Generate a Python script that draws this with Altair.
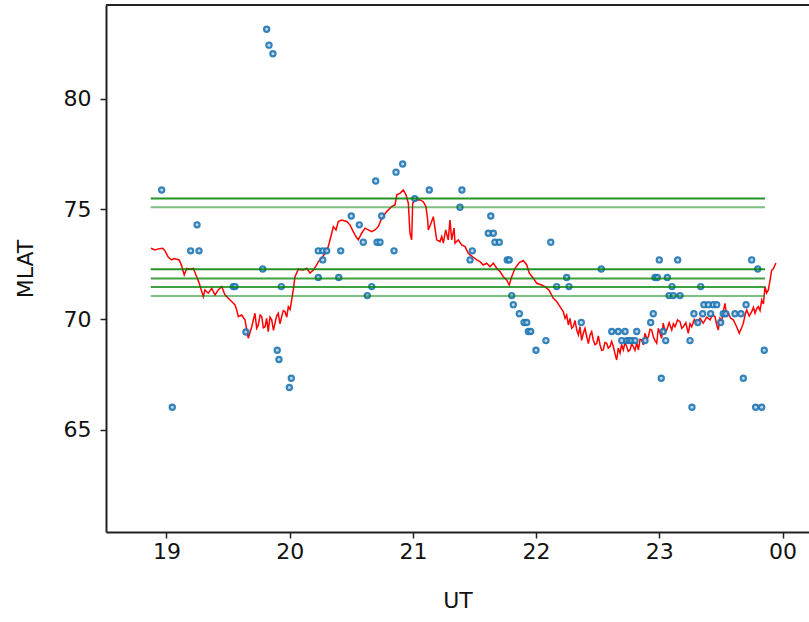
import altair as alt
import pandas as pd

# ---- data ----
line_ut = [
    18.874, 18.907, 18.933, 18.969, 18.988, 19.015, 19.042, 19.062, 19.083, 19.104,
    19.123, 19.144, 19.164, 19.191, 19.218, 19.245, 19.266, 19.286, 19.299, 19.312,
    19.339, 19.367, 19.394, 19.420, 19.448, 19.475, 19.502, 19.529, 19.556, 19.570,
    19.583, 19.610, 19.637, 19.656, 19.664, 19.692, 19.718, 19.732, 19.745, 19.760,
    19.773, 19.786, 19.800, 19.813, 19.826, 19.840, 19.854, 19.868, 19.881, 19.894,
    19.907, 19.921, 19.935, 19.948, 19.962, 19.976, 19.989, 20.003, 20.016, 20.029,
    20.043, 20.070, 20.110, 20.138, 20.165, 20.192, 20.219, 20.232, 20.260, 20.287,
    20.313, 20.341, 20.354, 20.376, 20.394, 20.422, 20.463, 20.489, 20.516, 20.538,
    20.557, 20.584, 20.611, 20.638, 20.666, 20.692, 20.719, 20.747, 20.787, 20.828,
    20.855, 20.869, 20.895, 20.922, 20.944, 20.963, 20.976, 20.990, 20.998, 21.017,
    21.058, 21.084, 21.106, 21.120, 21.125, 21.147, 21.166, 21.179, 21.193, 21.220,
    21.234, 21.247, 21.266, 21.287, 21.301, 21.315, 21.334, 21.342, 21.368, 21.396,
    21.423, 21.450, 21.464, 21.490, 21.518, 21.545, 21.571, 21.599, 21.626, 21.653,
    21.680, 21.707, 21.734, 21.761, 21.782, 21.802, 21.829, 21.864, 21.896, 21.924,
    21.945, 21.977, 22.005, 22.045, 22.072, 22.107, 22.140, 22.167, 22.194, 22.221,
    22.235, 22.248, 22.262, 22.275, 22.289, 22.302, 22.316, 22.330, 22.343, 22.356,
    22.370, 22.383, 22.397, 22.411, 22.424, 22.438, 22.451, 22.464, 22.478, 22.492,
    22.505, 22.519, 22.532, 22.545, 22.559, 22.573, 22.586, 22.600, 22.613, 22.627,
    22.640, 22.654, 22.667, 22.681, 22.694, 22.708, 22.721, 22.735, 22.748, 22.762,
    22.776, 22.789, 22.803, 22.817, 22.830, 22.844, 22.857, 22.871, 22.884, 22.898,
    22.911, 22.925, 22.938, 22.952, 22.965, 22.979, 22.992, 23.006, 23.019, 23.032,
    23.046, 23.060, 23.080, 23.101, 23.114, 23.127, 23.148, 23.168, 23.182, 23.195,
    23.215, 23.235, 23.249, 23.263, 23.284, 23.304, 23.330, 23.357, 23.385, 23.412,
    23.432, 23.452, 23.466, 23.479, 23.492, 23.506, 23.519, 23.533, 23.547, 23.560,
    23.580, 23.601, 23.625, 23.649, 23.666, 23.682, 23.696, 23.709, 23.730, 23.750,
    23.764, 23.777, 23.791, 23.804, 23.818, 23.831, 23.845, 23.858, 23.871, 23.885,
    23.898, 23.912, 23.926, 23.939, 23.947,
]
line_mlat = [
    73.23, 73.15, 73.20, 73.23, 73.11, 72.82, 72.70, 72.76, 72.73, 72.70,
    72.43, 72.02, 72.32, 72.28, 72.32, 71.94, 71.64, 71.26, 71.03, 71.34,
    71.19, 71.41, 71.11, 71.34, 71.49, 71.11, 70.96, 70.81, 70.66, 70.43,
    70.13, 70.20, 69.98, 69.37, 69.15, 69.67, 70.28, 69.60, 69.75, 70.20,
    70.13, 69.62, 69.67, 70.05, 69.45, 70.10, 69.98, 69.50, 69.83, 70.15,
    70.28, 69.80, 70.13, 70.40, 70.35, 70.10, 70.58, 70.45, 70.88, 71.34,
    71.94, 72.28, 72.24, 72.32, 72.10, 72.24, 72.47, 72.62, 72.78, 73.00,
    73.30, 73.91, 74.21, 74.06, 74.44, 74.51, 74.44, 74.29, 73.98, 73.76,
    73.61, 73.91, 74.14, 74.06, 73.98, 74.06, 74.21, 74.59, 74.89, 75.12,
    75.19, 75.65, 75.72, 75.87, 75.65, 75.27, 73.91, 73.61, 75.27, 75.42,
    75.42, 75.34, 75.12, 74.51, 74.06, 74.36, 74.66, 74.14, 73.61, 73.53,
    73.76, 73.46, 74.06, 73.61, 74.51, 73.61, 74.14, 73.46, 73.61, 73.38,
    73.30, 73.00, 72.93, 72.82, 72.70, 72.62, 72.47, 72.55, 72.39, 72.55,
    72.32, 72.17, 71.94, 71.79, 71.56, 71.94, 72.32, 72.58, 72.67, 72.47,
    72.10, 71.87, 71.64, 71.56, 71.49, 71.31, 70.96, 70.81, 70.58, 70.35,
    70.05, 70.20, 69.75, 70.05, 69.60, 69.67, 69.95, 69.52, 69.30, 69.67,
    69.05, 69.37, 69.60, 69.22, 68.90, 69.30, 69.45, 69.07, 68.85, 68.92,
    69.25, 68.84, 68.60, 68.62, 68.95, 68.92, 68.70, 68.77, 69.00, 68.77,
    68.45, 68.16, 68.70, 68.47, 68.85, 68.62, 68.95, 68.77, 68.55, 68.62,
    68.90, 68.77, 68.60, 68.95, 68.62, 69.10, 69.07, 68.85, 69.37, 69.10,
    69.22, 69.55, 69.52, 69.20, 69.05, 68.92, 69.60, 69.37, 69.15, 69.83,
    69.45, 69.52, 69.85, 69.52, 69.80, 69.67, 69.98, 69.90, 69.60, 69.67,
    69.85, 69.37, 69.80, 69.67, 70.00, 69.83, 70.05, 69.83, 70.10, 69.98,
    70.20, 70.13, 69.75, 69.52, 70.05, 69.90, 70.35, 70.73, 70.20, 70.28,
    70.05, 69.98, 69.70, 69.37, 69.60, 69.83, 70.20, 70.43, 70.15, 70.35,
    70.55, 70.28, 70.50, 70.58, 70.40, 70.88, 70.70, 71.49, 71.20, 71.34,
    71.75, 72.24, 72.30, 72.47, 72.55,
]

pts_ut = [
    18.961, 19.047, 19.196, 19.264, 19.248, 19.542, 19.556, 19.645, 19.781, 19.813,
    19.832, 19.864, 19.899, 19.913, 19.932, 19.997, 20.013, 20.232, 20.268, 20.300,
    20.268, 20.232, 20.398, 20.414, 20.500, 20.565, 20.597, 20.630, 20.666, 20.698,
    20.709, 20.733, 20.747, 20.847, 20.863, 20.917, 21.015, 21.133, 21.398, 21.382,
    21.464, 21.482, 21.612, 21.632, 21.653, 21.666, 21.701, 21.766, 21.782, 21.802,
    21.815, 21.864, 21.902, 21.924, 21.937, 21.956, 21.999, 22.080, 22.119, 22.167,
    22.248, 22.267, 22.367, 22.529, 22.614, 22.667, 22.722, 22.695, 22.735, 22.756,
    22.776, 22.803, 22.817, 22.884, 22.930, 22.951, 22.965, 22.984, 23.000, 23.016,
    23.032, 23.052, 23.065, 23.079, 23.103, 23.114, 23.149, 23.168, 23.249, 23.265,
    23.281, 23.312, 23.336, 23.352, 23.362, 23.398, 23.417, 23.438, 23.466, 23.498,
    23.519, 23.540, 23.614, 23.663, 23.682, 23.704, 23.750, 23.782, 23.799, 23.831,
    23.852,
]
pts_mlat = [
    75.87, 66.02, 73.11, 73.11, 74.29, 71.49, 71.49, 69.43, 72.29, 83.16,
    82.44, 82.05, 68.60, 68.18, 71.49, 66.91, 67.33, 73.11, 73.11, 73.11,
    72.70, 71.90, 71.90, 73.11, 74.69, 74.29, 73.50, 71.08, 71.49, 76.28,
    73.50, 73.50, 74.69, 73.11, 76.68, 77.05, 75.48, 75.87, 75.87, 75.09,
    72.70, 73.11, 73.91, 74.69, 73.91, 73.50, 73.50, 72.70, 72.70, 71.08,
    70.67, 70.26, 69.86, 69.86, 69.45, 69.45, 68.60, 69.04, 73.50, 71.49,
    71.90, 71.49, 69.86, 72.29, 69.45, 69.45, 69.45, 69.04, 69.04, 69.04,
    69.04, 69.04, 69.45, 69.04, 69.86, 70.26, 71.90, 71.90, 72.70, 67.33,
    69.45, 69.04, 71.90, 71.08, 71.49, 71.08, 72.70, 71.08, 69.04, 66.02,
    70.26, 69.86, 71.49, 70.26, 70.67, 70.67, 70.26, 70.67, 70.67, 69.86,
    70.26, 70.26, 70.26, 70.26, 67.33, 70.67, 72.70, 66.02, 72.29, 66.02,
    68.60,
]

oval_levels = [75.48, 75.09, 72.28, 71.86, 71.47, 71.06]
oval_ut_start = 18.872
oval_ut_end = 23.858

x_ticks = [19, 20, 21, 22, 23, 24]
y_ticks = [65, 70, 75, 80]

# ---- styles ----
oval_alpha = [0.85, 0.5, 0.85, 0.75, 0.75, 0.5]

line_df = pd.DataFrame({"UT": line_ut, "MLAT": line_mlat, "i": list(range(len(line_ut)))})
pts_df = pd.DataFrame({"UT": pts_ut, "MLAT": pts_mlat})
oval_df = pd.DataFrame({
    "MLAT": oval_levels,
    "UT0": [oval_ut_start] * len(oval_levels),
    "UT1": [oval_ut_end] * len(oval_levels),
    "a": oval_alpha,
})

W, H = 703, 527
xscale = alt.Scale(domain=[18.509, 24.215], nice=False, zero=False)
yscale = alt.Scale(domain=[60.36, 84.26], nice=False, zero=False)

xaxis = alt.Axis(
    title="UT", values=x_ticks, grid=False,
    labelExpr="datum.value == 24 ? '00' : format(datum.value, 'd')",
    labelPadding=3, titlePadding=28,
)
yaxis = alt.Axis(title="MLAT", values=y_ticks, grid=False, labelPadding=9, titlePadding=26)

X = alt.X("UT:Q", scale=xscale, axis=xaxis)
Y = alt.Y("MLAT:Q", scale=yscale, axis=yaxis)

red = alt.Chart(line_df).mark_line(color="red", strokeWidth=1.5, clip=True).encode(
    x=X, y=Y, order="i:Q"
)

pts = alt.Chart(pts_df).mark_circle(
    size=27, fill="#b9d3ea", fillOpacity=0.9, stroke="#1f77b4", strokeWidth=2.2, opacity=0.9
).encode(x=X, y=Y)

ovals = alt.Chart(oval_df).mark_rule(color="green", strokeWidth=2).encode(
    x=X, x2="UT1:Q", y=Y, opacity=alt.Opacity("a:Q", scale=None, legend=None)
).transform_calculate(UT="datum.UT0")

frame_top = alt.Chart(pd.DataFrame({"k": [0]})).mark_rule(color="#222", strokeWidth=2).encode(
    x=alt.value(0), x2=alt.value(W), y=alt.value(0)
)

chart = alt.layer(red, pts, ovals, frame_top).properties(
    width=W, height=H,
    autosize=alt.AutoSizeParams(type="none"),
    padding={"left": 106, "top": 5, "right": 0, "bottom": 90},
).configure_view(stroke=None).configure_axis(
    domainColor="#222", domainWidth=2, tickColor="#222", tickWidth=1.5, tickSize=6,
    labelFont="DejaVu Sans", labelFontSize=22, labelColor="#111",
    titleFont="DejaVu Sans", titleFontSize=22, titleFontWeight="normal", titleColor="#111",
)

chart.save("out.html", embed_options={"renderer": "svg", "actions": False})
